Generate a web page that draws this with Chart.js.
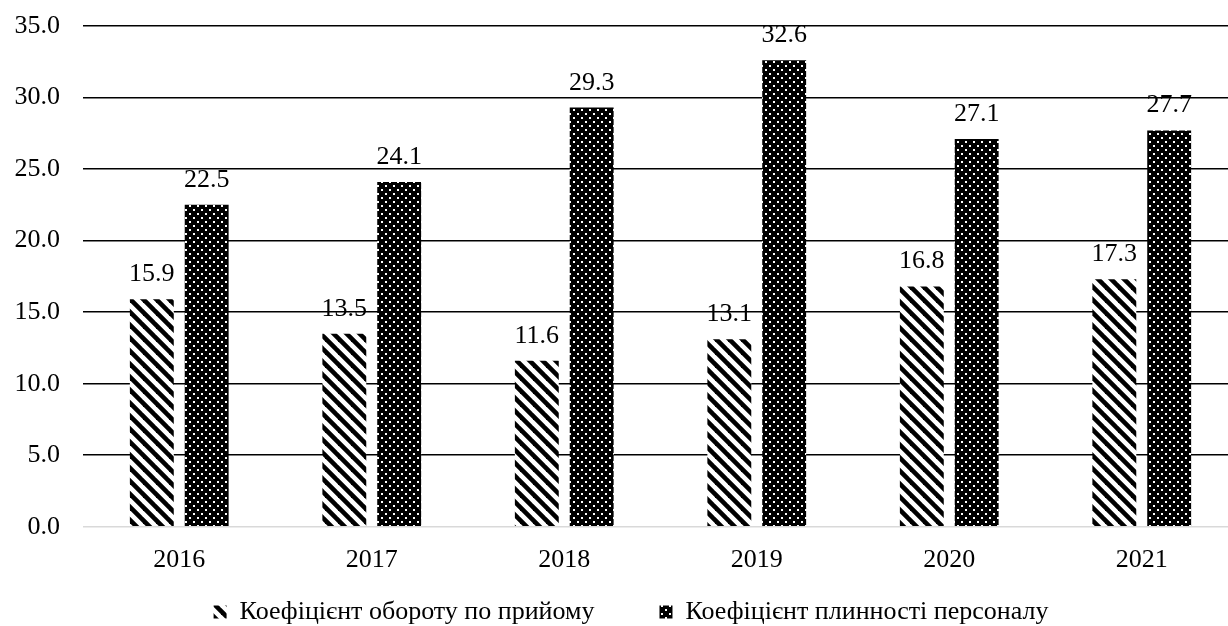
<!DOCTYPE html>
<html>
<head>
<meta charset="utf-8">
<script src="https://cdn.jsdelivr.net/npm/chart.js@4/dist/chart.umd.min.js"></script>
<style>
html,body{margin:0;padding:0;overflow:hidden;background:#fff;}
#wrap{width:1240px;height:636px;position:relative;}
</style>
</head>
<body>
<div id="wrap"><canvas id="c"></canvas></div>
<script>
const categories = ['2016','2017','2018','2019','2020','2021'];
const seriesNames = ['Коефіцієнт обороту по прийому','Коефіцієнт плинності персоналу'];
const hireTurnover = [15.9, 13.5, 11.6, 13.1, 16.8, 17.3];
const staffTurnover = [22.5, 24.1, 29.3, 32.6, 27.1, 27.7];
const yTicks = [0, 5, 10, 15, 20, 25, 30, 35];

const FONT = '"Liberation Serif", "Times New Roman", serif';

function stripePattern(){
  const s = 13;
  const cv = document.createElement('canvas'); cv.width = s; cv.height = s;
  const g = cv.getContext('2d');
  g.fillStyle = '#fff'; g.fillRect(0,0,s,s);
  g.strokeStyle = '#000'; g.lineWidth = 4.6;
  for (let k=-1;k<=1;k++){
    g.beginPath(); g.moveTo(k*s - 3, -3); g.lineTo(k*s + s + 3, s + 3); g.stroke();
  }
  return g.createPattern(cv,'repeat');
}
function dotPattern(){
  const s = 8;
  const cv = document.createElement('canvas'); cv.width = s; cv.height = s;
  const g = cv.getContext('2d');
  g.fillStyle = '#000'; g.fillRect(0,0,s,s);
  g.fillStyle = '#fff';
  g.fillRect(1,1,2,2); g.fillRect(5,5,2,2);
  return g.createPattern(cv,'repeat');
}
const pStripe = stripePattern();
const pDots = dotPattern();

const labelPlugin = {
  id:'valueLabels',
  afterDatasetsDraw(chart){
    const ctx = chart.ctx;
    ctx.save();
    ctx.font = '26px ' + FONT;
    ctx.fillStyle = '#000';
    ctx.textAlign = 'center';
    ctx.textBaseline = 'alphabetic';
    chart.data.datasets.forEach((ds, di) => {
      chart.getDatasetMeta(di).data.forEach((bar, i) => {
        ctx.fillText(ds.data[i].toFixed(1), bar.x, bar.y - 18);
      });
    });
    ctx.restore();
  }
};

const legendShift = {
  id:'legendShift',
  afterLayout(chart){
    if (chart.legend) { chart.legend.left += 12; chart.legend.right += 12; }
  }
};

Chart.defaults.font.family = FONT;
Chart.defaults.color = '#000';

new Chart(document.getElementById('c'), {
  type:'bar',
  data:{
    labels: categories,
    datasets:[
      {label: seriesNames[0], data: hireTurnover, backgroundColor: pStripe, borderWidth:0},
      {label: seriesNames[1], data: staffTurnover, backgroundColor: pDots, borderWidth:0}
    ]
  },
  options:{
    responsive:true, maintainAspectRatio:false, animation:false,
    layout:{padding:{top:26, right:2, left:0, bottom:1}},
    datasets:{bar:{categoryPercentage:0.57, barPercentage:0.8}},
    plugins:{
      legend:{
        position:'bottom',
        labels:{
          boxWidth:13, boxHeight:13, padding:13, font:{size:26, family:FONT}, color:'#000',
          generateLabels(chart){
            const items = Chart.defaults.plugins.legend.labels.generateLabels(chart);
            items.forEach((it, i) => { if (i < items.length - 1) it.text = it.text + '\u2002\u2002\u2002\u2002'; it.lineWidth = 0; });
            return items;
          }
        }
      },
      tooltip:{enabled:false}
    },
    scales:{
      x:{
        grid:{display:false},
        border:{display:false},
        ticks:{font:{size:26, family:FONT}, color:'#000', padding:10}
      },
      y:{
        min:0, max:35,
        afterBuildTicks(scale){ scale.ticks = yTicks.map(v=>({value:v})); },
        afterFit(scale){ scale.width = 83; scale.paddingTop = 0; scale.paddingBottom = 0; },
        grid:{
          drawTicks:false,
          color: c => c.tick && c.tick.value === 0 ? '#d9d9d9' : '#000',
          lineWidth: c => c.tick && c.tick.value === 0 ? 1.5 : 1.6
        },
        border:{display:false},
        ticks:{font:{size:26, family:FONT}, color:'#000', padding:23, callback: v => Number(v).toFixed(1)}
      }
    }
  },
  plugins:[labelPlugin, legendShift]
});
</script>
</body>
</html>
